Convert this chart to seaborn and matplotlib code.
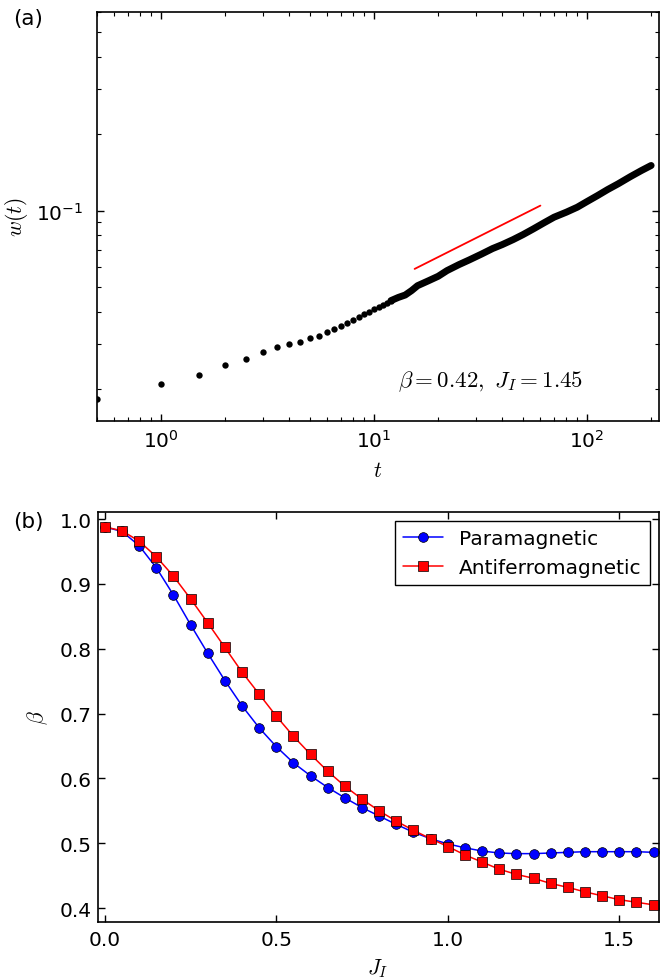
import matplotlib
matplotlib.use('Agg')
import matplotlib.pyplot as plt
import matplotlib.ticker as mticker
import seaborn as sns

# Panel (a): width w(t) vs time t (log-log)
# early, well separated points (t step 0.5)
t_early = [0.5, 1.0, 1.5, 2.0, 2.5, 3.0, 3.5, 4.0, 4.5, 5.0, 5.5, 6.0,
           6.5, 7.0, 7.5, 8.0, 8.5, 9.0, 9.5, 10.0, 10.5, 11.0, 11.5, 12.0]
w_early = [0.01827, 0.02086, 0.02268, 0.02475, 0.02621, 0.02792, 0.02920,
           0.03008, 0.03063, 0.03159, 0.03234, 0.03353, 0.03436, 0.03521,
           0.03628, 0.03738, 0.03840, 0.0393, 0.0402, 0.0412, 0.0420,
           0.0428, 0.0436, 0.0444]
# later points are so dense they form a thick band
t_dense = [12, 13, 14, 15, 16, 18, 20, 22, 25, 28, 32, 36, 40, 45, 50, 56,
           63, 70, 80, 90, 100, 112, 125, 140, 160, 180, 200]
w_dense = [0.0444, 0.0457, 0.0467, 0.0486, 0.0508, 0.0531, 0.0553, 0.0582,
           0.0614, 0.0641, 0.0676, 0.0710, 0.0736, 0.0770, 0.0805, 0.0848,
           0.0897, 0.0942, 0.0986, 0.1031, 0.1085, 0.1145, 0.1209, 0.1273,
           0.1359, 0.1435, 0.1502]
# power-law guide, slope beta = 0.42
t_fit = [15.5, 60.4]
w_fit = [0.0591, 0.1046]

# Panel (b): growth exponent beta vs J_I
J = [0.0, 0.05, 0.1, 0.15, 0.2, 0.25, 0.3, 0.35, 0.4, 0.45, 0.5, 0.55,
     0.6, 0.65, 0.7, 0.75, 0.8, 0.85, 0.9, 0.95, 1.0, 1.05, 1.1, 1.15,
     1.2, 1.25, 1.3, 1.35, 1.4, 1.45, 1.5, 1.55, 1.6]
beta_para = [0.988, 0.981, 0.959, 0.925, 0.883, 0.837, 0.793, 0.751, 0.712,
             0.678, 0.649, 0.624, 0.604, 0.586, 0.570, 0.555, 0.542, 0.529,
             0.517, 0.507, 0.499, 0.493, 0.488, 0.485, 0.484, 0.484, 0.485,
             0.486, 0.487, 0.487, 0.487, 0.487, 0.486]
beta_anti = [0.988, 0.982, 0.966, 0.942, 0.912, 0.877, 0.840, 0.802, 0.764,
             0.730, 0.696, 0.665, 0.637, 0.611, 0.588, 0.568, 0.550, 0.534,
             0.520, 0.507, 0.495, 0.482, 0.471, 0.460, 0.452, 0.446, 0.438,
             0.432, 0.425, 0.419, 0.413, 0.409, 0.405]

sns.set_style('ticks', {
    'xtick.direction': 'in', 'ytick.direction': 'in',
    'xtick.top': True, 'ytick.right': True,
    'axes.edgecolor': 'black', 'axes.linewidth': 1.2,
    'text.color': 'black', 'axes.labelcolor': 'black',
    'xtick.color': 'black', 'ytick.color': 'black',
})
plt.rcParams['font.family'] = ['DejaVu Sans']
plt.rcParams['mathtext.fontset'] = 'cm'

fs_tick = 14.5
fs_label = 15.5

fig = plt.figure(figsize=(6.6, 9.79), dpi=100)
ax1 = fig.add_axes([0.147, 0.569, 0.851, 0.4178])
ax2 = fig.add_axes([0.148, 0.0575, 0.850, 0.4185])

# ---- panel (a)
sns.lineplot(x=t_dense, y=w_dense, color='k', lw=5, ax=ax1,
             solid_capstyle='round')
sns.scatterplot(x=t_early, y=w_early, color='k', s=21, linewidth=0, ax=ax1,
                zorder=3)
sns.lineplot(x=t_fit, y=w_fit, color='r', lw=1.3, ax=ax1)
ax1.set_xscale('log')
ax1.set_yscale('log')
ax1.set_xlim(0.5, 217)
ax1.set_ylim(0.015, 0.6)
ax1.xaxis.set_minor_formatter(mticker.NullFormatter())
ax1.yaxis.set_minor_formatter(mticker.NullFormatter())
ax1.set_xlabel(r'$t$', fontsize=fs_label)
ax1.set_ylabel(r'$w(t)$', fontsize=fs_label)
ax1.xaxis.set_label_coords(0.5, -0.095)
ax1.yaxis.set_label_coords(-0.12, 0.5)
ax1.text(0.701, 0.086, r'$\beta=0.42,\ J_I=1.45$', transform=ax1.transAxes,
         ha='center', va='baseline', fontsize=16.5)
ax1.tick_params(axis='x', which='major', pad=6)
ax1.tick_params(axis='y', which='major', pad=10)

# ---- panel (b)
sns.lineplot(x=J, y=beta_para, color='b', lw=1.1, marker='o', ms=7,
             mec='k', mew=0.5, label='Paramagnetic', ax=ax2)
sns.lineplot(x=J, y=beta_anti, color='r', lw=1.1, marker='s', ms=7,
             mec='k', mew=0.5, label='Antiferromagnetic', ax=ax2)
ax2.set_xlim(-0.021, 1.615)
ax2.set_ylim(0.379, 1.011)
ax2.set_xticks([0.0, 0.5, 1.0, 1.5])
ax2.set_yticks([0.4, 0.5, 0.6, 0.7, 0.8, 0.9, 1.0])
ax2.xaxis.set_major_formatter(mticker.FormatStrFormatter('%.1f'))
ax2.yaxis.set_major_formatter(mticker.FormatStrFormatter('%.1f'))
ax2.set_xlabel(r'$J_I$', fontsize=fs_label)
ax2.set_ylabel(r'$\beta$', fontsize=fs_label)
ax2.xaxis.set_label_coords(0.5, -0.084)
ax2.yaxis.set_label_coords(-0.085, 0.5)
ax2.tick_params(axis='x', which='major', pad=6)
ax2.tick_params(axis='y', which='major', pad=4)
leg = ax2.legend(loc='upper right', numpoints=1, fontsize=fs_tick,
                 frameon=True, fancybox=False, edgecolor='k', framealpha=1,
                 handlelength=2.0, borderaxespad=0.45, borderpad=0.4,
                 labelspacing=0.5, handletextpad=0.8)
leg.get_frame().set_linewidth(1.0)

for ax in (ax1, ax2):
    ax.tick_params(which='major', length=5, width=1, labelsize=fs_tick,
                   direction='in', top=True, right=True, colors='black')
    ax.tick_params(which='minor', length=3, width=0.8, direction='in',
                   top=True, right=True, colors='black')
    for sp in ax.spines.values():
        sp.set_visible(True)
        sp.set_linewidth(1.2)
        sp.set_color('black')

fig.text(13 / 660, 1 - 9 / 979, '(a)', ha='left', va='top', fontsize=15.5)
fig.text(13 / 660, 1 - 512 / 979, '(b)', ha='left', va='top', fontsize=15.5)

fig.savefig('out.png', dpi=100)
